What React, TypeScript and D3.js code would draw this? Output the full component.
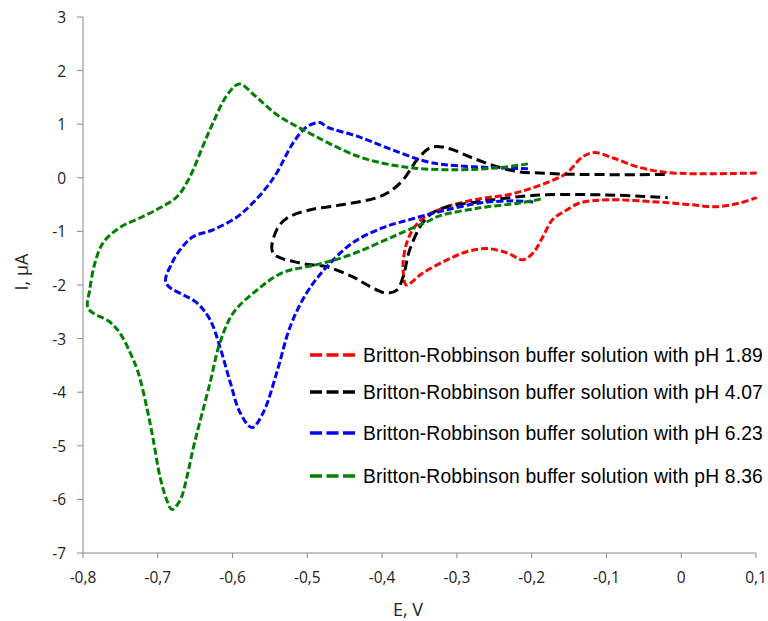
import React from 'react';
import * as d3 from 'd3';

// cyclic voltammograms, [E (V), I (µA)]
const ph189: [number, number][] = [
  [0.101, 0.09], [-0.011, 0.09], [-0.055, 0.19], [-0.091, 0.37], [-0.116, 0.47],
  [-0.132, 0.39], [-0.153, 0.09], [-0.176, -0.07], [-0.206, -0.22], [-0.233, -0.32],
  [-0.269, -0.39], [-0.313, -0.54], [-0.345, -0.75], [-0.359, -0.97], [-0.367, -1.21],
  [-0.372, -1.59], [-0.371, -1.85], [-0.368, -2.0], [-0.345, -1.77], [-0.313, -1.53],
  [-0.287, -1.38], [-0.26, -1.32], [-0.233, -1.4], [-0.212, -1.53], [-0.198, -1.4],
  [-0.185, -1.1], [-0.172, -0.78], [-0.153, -0.6], [-0.136, -0.47], [-0.099, -0.41],
  [-0.033, -0.45], [0.011, -0.5], [0.048, -0.54], [0.078, -0.47], [0.101, -0.37]
];

const ph407: [number, number][] = [
  [-0.022, 0.06], [-0.109, 0.06], [-0.162, 0.07], [-0.189, 0.09], [-0.216, 0.11],
  [-0.247, 0.21], [-0.279, 0.37], [-0.305, 0.52], [-0.323, 0.58], [-0.336, 0.56],
  [-0.353, 0.34], [-0.372, -0.04], [-0.39, -0.26], [-0.407, -0.37], [-0.452, -0.5],
  [-0.497, -0.6], [-0.527, -0.75], [-0.541, -0.97], [-0.546, -1.4], [-0.51, -1.59],
  [-0.474, -1.66], [-0.439, -1.85], [-0.416, -2.03], [-0.394, -2.15], [-0.38, -2.09],
  [-0.372, -1.85], [-0.363, -1.34], [-0.349, -0.91], [-0.336, -0.69], [-0.313, -0.54],
  [-0.273, -0.45], [-0.229, -0.37], [-0.185, -0.32], [-0.099, -0.32], [-0.018, -0.37]
];

const ph623: [number, number][] = [
  [-0.205, 0.17], [-0.252, 0.19], [-0.313, 0.24], [-0.34, 0.3], [-0.386, 0.52],
  [-0.43, 0.76], [-0.474, 0.95], [-0.483, 1.03], [-0.501, 0.95], [-0.519, 0.65],
  [-0.541, 0.09], [-0.554, -0.17], [-0.573, -0.47], [-0.594, -0.73], [-0.626, -0.97],
  [-0.653, -1.1], [-0.67, -1.34], [-0.681, -1.59], [-0.689, -1.96], [-0.648, -2.33],
  [-0.63, -2.65], [-0.617, -3.15], [-0.603, -3.82], [-0.59, -4.38], [-0.574, -4.66],
  [-0.559, -4.38], [-0.541, -3.64], [-0.523, -2.78], [-0.501, -2.15], [-0.474, -1.66],
  [-0.439, -1.21], [-0.399, -0.93], [-0.363, -0.78], [-0.323, -0.63], [-0.269, -0.47],
  [-0.225, -0.43], [-0.198, -0.45]
];

const ph836: [number, number][] = [
  [-0.205, 0.26], [-0.243, 0.19], [-0.296, 0.15], [-0.363, 0.19], [-0.43, 0.39],
  [-0.506, 0.9], [-0.541, 1.18], [-0.57, 1.53], [-0.591, 1.75], [-0.607, 1.55],
  [-0.626, 1.03], [-0.64, 0.58], [-0.657, 0.02], [-0.674, -0.35], [-0.697, -0.56],
  [-0.724, -0.75], [-0.751, -0.93], [-0.773, -1.21], [-0.784, -1.59], [-0.791, -2.09],
  [-0.793, -2.44], [-0.764, -2.69], [-0.751, -2.89], [-0.737, -3.26], [-0.726, -3.64],
  [-0.714, -4.33], [-0.706, -4.89], [-0.697, -5.58], [-0.688, -6.01], [-0.681, -6.19],
  [-0.67, -6.01], [-0.661, -5.58], [-0.653, -5.07], [-0.644, -4.57], [-0.63, -3.82],
  [-0.617, -3.08], [-0.599, -2.52], [-0.567, -2.09], [-0.533, -1.77], [-0.487, -1.62],
  [-0.443, -1.44], [-0.386, -1.1], [-0.34, -0.82], [-0.323, -0.71], [-0.269, -0.56],
  [-0.216, -0.47], [-0.185, -0.39]
];

const seriesNames = [
  'Britton-Robbinson buffer solution with pH 1.89',
  'Britton-Robbinson buffer solution with pH 4.07',
  'Britton-Robbinson buffer solution with pH 6.23',
  'Britton-Robbinson buffer solution with pH 8.36'
];
const seriesColors = ['#ff0000', '#000000', '#0000ff', '#008000'];
const seriesDash = ['7 3', '10 5', '7 3', '7 3'];

const xTicks = [-0.8, -0.7, -0.6, -0.5, -0.4, -0.3, -0.2, -0.1, 0, 0.1];
const yTicks = [-7, -6, -5, -4, -3, -2, -1, 0, 1, 2, 3];

const fmtX = (v: number) => (v === 0 ? '0' : v.toFixed(1).replace('.', ','));
const fmtY = (v: number) => String(v);

export default function App() {
  const x = d3.scaleLinear().domain([-0.8, 0.1]).range([83, 756]);
  const y = d3.scaleLinear().domain([-7, 3]).range([553, 17]);
  const line = d3
    .line<[number, number]>()
    .x(d => x(d[0]))
    .y(d => y(d[1]))
    .curve(d3.curveCatmullRom.alpha(0.5));

  const series = [ph189, ph407, ph623, ph836];
  const legendY = [355, 392, 433, 476];
  const axisColor = '#898989';
  const tickFont = '"Open Sans", sans-serif';

  return (
    <svg
      width={768}
      height={621}
      style={{ position: 'absolute', left: 0, top: 0, background: '#fff' }}
    >
      {/* y axis */}
      <line x1={x(-0.8)} x2={x(-0.8)} y1={y(3)} y2={y(-7)} stroke={axisColor} />
      {yTicks.map(t => (
        <g key={'y' + t}>
          <line x1={x(-0.8) - 6} x2={x(-0.8)} y1={y(t)} y2={y(t)} stroke={axisColor} />
          <text
            x={66}
            y={y(t)}
            textAnchor="end"
            dominantBaseline="central"
            fontFamily={tickFont}
            fontSize={15.5}
            fill="#222"
          >
            {fmtY(t)}
          </text>
        </g>
      ))}
      {/* x axis */}
      <line x1={x(-0.8)} x2={x(0.1)} y1={y(-7)} y2={y(-7)} stroke={axisColor} />
      {xTicks.map(t => (
        <g key={'x' + t}>
          <line x1={x(t)} x2={x(t)} y1={y(-7)} y2={y(-7) + 5} stroke={axisColor} />
          <text
            x={x(t)}
            y={577}
            textAnchor="middle"
            dominantBaseline="central"
            fontFamily={tickFont}
            fontSize={15.5}
            fill="#222"
          >
            {fmtX(t)}
          </text>
        </g>
      ))}
      <text x={408} y={616} textAnchor="middle" fontFamily={tickFont} fontSize={18} fill="#222">
        E, V
      </text>
      <text
        transform="translate(28,272) rotate(-90)"
        textAnchor="middle"
        fontFamily={tickFont}
        fontSize={18}
        fill="#222"
      >
        I, μA
      </text>

      {series.map((s, i) => (
        <path
          key={seriesNames[i]}
          d={line(s) || ''}
          fill="none"
          stroke={seriesColors[i]}
          strokeWidth={3}
          strokeDasharray={seriesDash[i]}
        />
      ))}

      {seriesNames.map((name, i) => (
        <g key={'leg' + i}>
          <line
            x1={310}
            x2={356}
            y1={legendY[i]}
            y2={legendY[i]}
            stroke={seriesColors[i]}
            strokeWidth={3.5}
            strokeDasharray="12 4.5"
          />
          <text
            x={363}
            y={legendY[i]}
            dominantBaseline="central"
            fontFamily='"Liberation Sans", Arial, sans-serif'
            fontSize={19.3}
            letterSpacing={0.15}
            fill="#000"
          >
            {name}
          </text>
        </g>
      ))}
    </svg>
  );
}
